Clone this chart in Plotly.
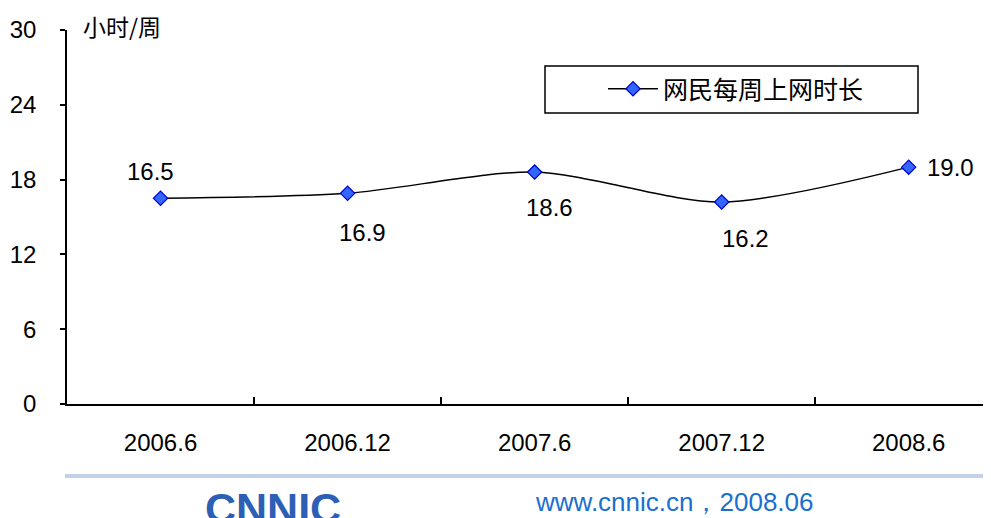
import plotly.graph_objects as go

categories = ["2006.6", "2006.12", "2007.6", "2007.12", "2008.6"]
hours = [16.5, 16.9, 18.6, 16.2, 19.0]
series_name = "网民每周上网时长"
unit_label = "小时/周"
y_ticks = [0, 6, 12, 18, 24, 30]
footer_text = "www.cnnic.cn，2008.06"
logo_text = "CNNIC"

# label placement styling (pixel shifts)
label_dx = [-10, 15, 15, 24, 42]
label_dy = [27, -39, -35, -36, 0]

FONT = "Liberation Sans, Arial, sans-serif"
CJK = "Noto Sans CJK SC, sans-serif"

# page has an 8px body margin; plot area in page px: x 67..991, y 30..404
PX0, PW, PY1, PH = 67, 924, 404, 374
def px(x):
    return (x - PX0) / PW
def py(y):
    return (PY1 - y) / PH

xs = list(range(len(categories)))

fig = go.Figure()
fig.add_trace(go.Scatter(
    x=xs, y=hours, name=series_name, mode="lines+markers",
    line=dict(color="black", width=1.5, shape="spline", smoothing=0.8),
    marker=dict(symbol="diamond", size=11, color="#3366ff",
                line=dict(color="#0000cc", width=1.2)),
))
# invisible trace on xaxis2 for boundary ticks
fig.add_trace(go.Scatter(x=xs, y=hours, xaxis="x2", showlegend=False,
                         mode="markers", marker=dict(opacity=0), hoverinfo="skip"))

for i, (x, v) in enumerate(zip(xs, hours)):
    fig.add_annotation(x=x, y=v, text=f"{v:.1f}", showarrow=False,
                       xshift=label_dx[i], yshift=label_dy[i],
                       font=dict(family=FONT, size=24, color="black"))

fig.add_annotation(xref="paper", yref="paper", x=px(81), y=py(26), xanchor="left",
                   yanchor="middle", text=unit_label, showarrow=False,
                   font=dict(family=CJK, size=23, color="black"))

# legend box
fig.add_shape(type="rect", xref="paper", yref="paper",
              x0=px(545), x1=px(918), y0=py(113), y1=py(66),
              line=dict(color="black", width=1.5), fillcolor="rgba(0,0,0,0)")

# footer line
fig.add_shape(type="line", xref="paper", yref="paper",
              x0=px(65), x1=1.0, y0=py(476), y1=py(476),
              line=dict(color="#c3d0ea", width=4))
fig.add_annotation(xref="paper", yref="paper", x=px(533), y=py(502),
                   xanchor="left", yanchor="middle", text=footer_text, showarrow=False,
                   font=dict(family=FONT, size=26, color="#1a6fd0"))
fig.add_annotation(xref="paper", yref="paper", x=px(203), y=py(508),
                   xanchor="left", yanchor="middle", text="<b>" + logo_text + "</b>",
                   showarrow=False,
                   font=dict(family=FONT, size=43, color="#2d5fb4"))

fig.update_layout(
    width=983, height=510,
    margin=dict(l=59, r=0, t=22, b=114),
    paper_bgcolor="white", plot_bgcolor="white",
    showlegend=True,
    legend=dict(x=px(603), y=py(89), xanchor="left", yanchor="middle",
                bgcolor="rgba(0,0,0,0)", borderwidth=0, itemwidth=50,
                font=dict(family=CJK, size=25, color="black")),
    xaxis=dict(range=[-0.5, 4.44], tickmode="array", tickvals=xs, ticktext=categories,
               ticks="", showline=True, linecolor="black", linewidth=1.5,
               showgrid=False, zeroline=False, ticklabelstandoff=16, automargin=False,
               tickfont=dict(family=FONT, size=24, color="black")),
    xaxis2=dict(range=[-0.5, 4.44], overlaying="x", anchor="y", side="bottom",
                tickmode="array", tickvals=[0.5, 1.5, 2.5, 3.5], ticktext=[""] * 4,
                ticks="inside", ticklen=7, tickwidth=1.5, tickcolor="black",
                showline=False, showgrid=False, zeroline=False, automargin=False),
    yaxis=dict(range=[0, 30], tickmode="array", tickvals=y_ticks,
               ticks="outside", ticklen=5, tickwidth=1.5, tickcolor="black",
               showline=True, linecolor="black", linewidth=1.5,
               showgrid=False, zeroline=False, ticklabelstandoff=19, automargin=False,
               tickfont=dict(family=FONT, size=24, color="black")),
)

fig.write_html("out.html")
